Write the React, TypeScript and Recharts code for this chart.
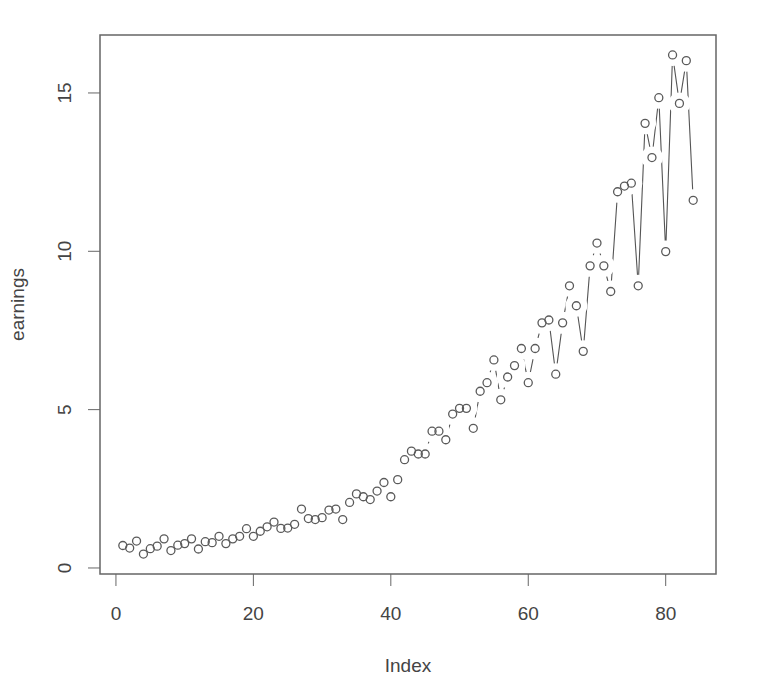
import { ComposedChart, Line, XAxis, YAxis, ReferenceArea } from 'recharts';

// quarterly earnings (84 points)
const earnings = [
  0.71, 0.63, 0.85, 0.44, 0.61, 0.69, 0.92, 0.55, 0.72, 0.77, 0.92, 0.6,
  0.83, 0.8, 1.0, 0.77, 0.92, 1.0, 1.24, 1.0, 1.16, 1.3, 1.45, 1.25,
  1.26, 1.38, 1.86, 1.56, 1.53, 1.59, 1.83, 1.86, 1.53, 2.07, 2.34, 2.25,
  2.16, 2.43, 2.7, 2.25, 2.79, 3.42, 3.69, 3.6, 3.6, 4.32, 4.32, 4.05,
  4.86, 5.04, 5.04, 4.41, 5.58, 5.85, 6.57, 5.31, 6.03, 6.39, 6.93, 5.85,
  6.93, 7.74, 7.83, 6.12, 7.74, 8.91, 8.28, 6.84, 9.54, 10.26, 9.54, 8.73,
  11.88, 12.06, 12.15, 8.91, 14.04, 12.96, 14.85, 9.99, 16.2, 14.67, 16.02, 11.61,
];
const xTicks = [0, 20, 40, 60, 80];
const yTicks = [0, 5, 10, 15];

const data = earnings.map((v, i) => ({ index: i + 1, earnings: v }));

const FONT = '"Liberation Sans", Arial, sans-serif';
const INK = '#444';

const XTick = ({ x, y, payload }: any) => (
  <text x={x} y={y + 32} textAnchor="middle" fontFamily={FONT} fontSize={19} fill={INK}>
    {payload.value}
  </text>
);

const YTick = ({ x, y, payload }: any) => (
  <text
    x={x - 15}
    y={y}
    textAnchor="middle"
    fontFamily={FONT}
    fontSize={19}
    fill={INK}
    transform={`rotate(-90, ${x - 15}, ${y})`}
  >
    {payload.value}
  </text>
);

// white halo under each point so the line breaks around it, like R type="b"
const Halo = ({ cx, cy }: any) => <circle cx={cx} cy={cy} r={11} fill="#fff" stroke="none" />;
const Ring = ({ cx, cy }: any) => (
  <circle cx={cx} cy={cy} r={4} fill="none" stroke="#5a5a5a" strokeWidth={1.3} />
);

export default function App() {
  return (
    <div style={{ position: 'absolute', left: 0, top: 0, background: '#fff' }}>
      <ComposedChart
        width={768}
        height={683}
        data={data}
        margin={{ top: 35, right: 52, left: 0, bottom: 0 }}
      >
        <XAxis
          dataKey="index"
          type="number"
          domain={[-2.32, 87.32]}
          ticks={xTicks}
          allowDataOverflow
          height={109}
          axisLine={false}
          tickLine={{ stroke: '#666' }}
          tickSize={12}
          tick={<XTick />}
          label={({ viewBox }: any) => (
            <text
              x={viewBox.x + viewBox.width / 2}
              y={viewBox.y + 98}
              textAnchor="middle"
              fontFamily={FONT}
              fontSize={19}
              fill={INK}
            >
              Index
            </text>
          )}
        />
        <YAxis
          type="number"
          domain={[-0.19, 16.83]}
          ticks={yTicks}
          allowDataOverflow
          width={100}
          axisLine={false}
          tickLine={{ stroke: '#666' }}
          tickSize={12}
          tick={<YTick />}
          label={({ viewBox }: any) => (
            <text
              x={24}
              y={viewBox.y + viewBox.height / 2}
              textAnchor="middle"
              fontFamily={FONT}
              fontSize={19}
              fill={INK}
              transform={`rotate(-90, 24, ${viewBox.y + viewBox.height / 2})`}
            >
              earnings
            </text>
          )}
        />
        <ReferenceArea
          x1={-2.32}
          x2={87.32}
          y1={-0.19}
          y2={16.83}
          fill="none"
          stroke="#666"
          strokeWidth={1.5}
          ifOverflow="visible"
        />
        <Line
          dataKey="earnings"
          stroke="#555"
          strokeWidth={1.1}
          dot={<Halo />}
          activeDot={false}
          isAnimationActive={false}
        />
        <Line
          dataKey="earnings"
          stroke="none"
          dot={<Ring />}
          activeDot={false}
          isAnimationActive={false}
        />
      </ComposedChart>
    </div>
  );
}
